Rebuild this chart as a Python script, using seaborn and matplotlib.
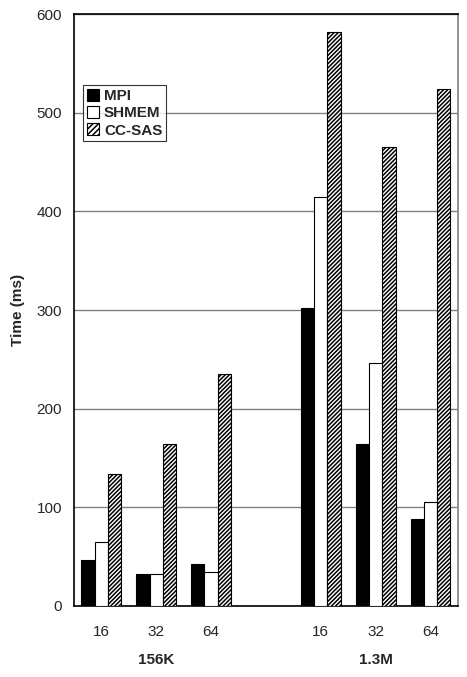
import numpy as np
import pandas as pd
import matplotlib
matplotlib.use("Agg")
import matplotlib.pyplot as plt
import seaborn as sns

# data
slots = ["a16", "a32", "a64", "gap", "b16", "b32", "b64"]
slot_labels = ["16", "32", "64", "", "16", "32", "64"]
series = ["MPI", "SHMEM", "CC-SAS"]
mpi = [47, 32, 43, 0, 302, 164, 88]
shmem = [65, 32, 34, 0, 415, 246, 105]
ccsas = [134, 164, 235, 0, 582, 465, 524]
groups = ["156K", "1.3M"]

rows = []
for name, vals in zip(series, [mpi, shmem, ccsas]):
    for s, v in zip(slots, vals):
        rows.append({"slot": s, "impl": name, "time": v})
df = pd.DataFrame(rows)

sns.set_style("white")
plt.rcParams['font.family'] = ['Liberation Sans', 'DejaVu Sans']
plt.rcParams['hatch.linewidth'] = 1.1

fig = plt.figure(figsize=(4.67, 6.77), dpi=100)
ax = fig.add_axes([0.158, 0.105, 0.823, 0.874])

palette = {"MPI": "black", "SHMEM": "white", "CC-SAS": "white"}
sns.barplot(data=df, x="slot", y="time", hue="impl", order=slots,
            hue_order=series, palette=palette, width=0.72,
            edgecolor="black", linewidth=0.8, ax=ax, zorder=3)

for bar_cont, name in zip(ax.containers, series):
    for b in bar_cont:
        if b.get_height() == 0:
            b.set_visible(False)
        if name == "CC-SAS":
            b.set_hatch("////////")

ax.set_ylim(0, 600)
ax.set_xlim(-0.5, 6.5)
ax.set_yticks(np.arange(0, 601, 100))
ax.yaxis.grid(True, color="#808080", linewidth=1.0, zorder=0)
ax.set_axisbelow(True)
ax.set_xticks(range(len(slots)))
ax.set_xticklabels(slot_labels, fontsize=11)
ax.set_xticks(np.arange(-0.5, 6.6, 1), minor=True)
ax.tick_params(axis="x", which="major", length=0, pad=14)
ax.tick_params(axis="x", which="minor", length=5, direction="out", width=1)
ax.tick_params(axis="y", length=5, direction="out", width=1, labelsize=11)
ax.set_ylabel("Time (ms)", fontsize=11, fontweight="bold", labelpad=8)
ax.set_xlabel("")

for sp in ["left", "bottom", "top"]:
    ax.spines[sp].set_color("black")
    ax.spines[sp].set_linewidth(1.2)
ax.spines["right"].set_color("#808080")
ax.spines["right"].set_linewidth(1.2)

for i, g in enumerate(groups):
    ax.text(1 + 4 * i, -0.08, g, transform=ax.get_xaxis_transform(),
            ha="center", va="top", fontsize=11, fontweight="bold")

leg = ax.legend(loc="upper left", bbox_to_anchor=(0.025, 0.88), frameon=True,
                fancybox=False, edgecolor="black",
                prop={"weight": "bold", "size": 11}, handlelength=0.8,
                handleheight=0.8, handletextpad=0.3, borderpad=0.25,
                labelspacing=0.2, borderaxespad=0)
leg.get_frame().set_linewidth(0.8)
leg.legend_handles[2].set_hatch("//////")

fig.savefig("out.png", dpi=100)
